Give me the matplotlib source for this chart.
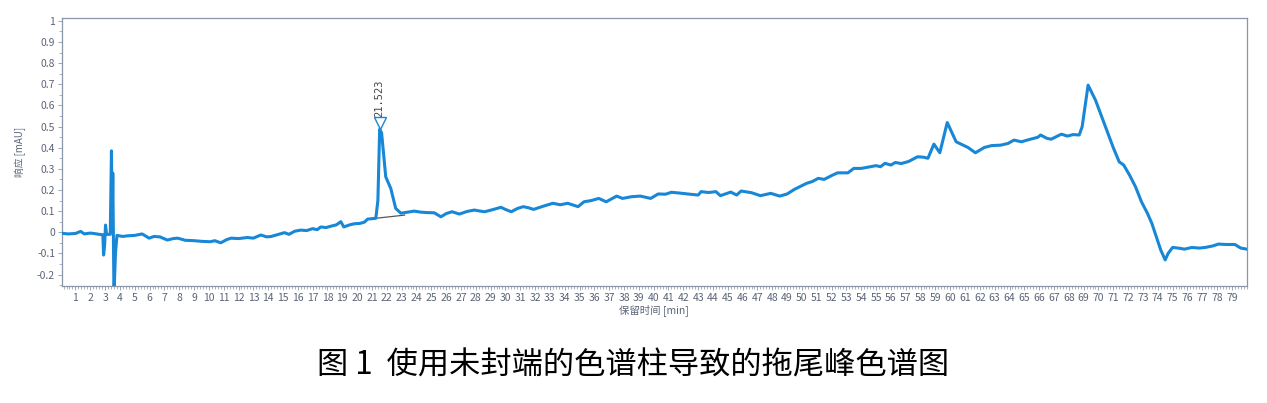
import numpy as np
import matplotlib
matplotlib.use('Agg')
import matplotlib.pyplot as plt
from matplotlib.ticker import MultipleLocator

plt.rcParams['font.family'] = ['Noto Sans CJK SC', 'DejaVu Sans']

# 色谱数据 (时间 min, 响应 mAU)
t = [0.1, 0.5, 1.0, 1.35, 1.6, 2.0, 2.25, 2.6, 2.85, 2.9, 2.97, 3.03, 3.1, 3.35,
     3.43, 3.48, 3.52, 3.6, 3.7, 3.8, 4.2, 4.5, 5.0, 5.5, 5.97, 6.3, 6.7, 7.2,
     7.6, 7.9, 8.4, 9.0, 9.5, 10.1, 10.4, 10.8, 11.2, 11.5, 12.0, 12.6, 13.0,
     13.5, 13.9, 14.2, 14.7, 15.1, 15.4, 15.8, 16.2, 16.6, 17.0, 17.3, 17.55,
     17.9, 18.2, 18.6, 18.9, 19.1, 19.5, 19.8, 20.2, 20.5, 20.7, 21.0, 21.26,
     21.4, 21.52, 21.65, 21.93, 22.27, 22.6, 22.95, 23.4, 23.85, 24.3, 24.7,
     25.2, 25.65, 26.0, 26.4, 26.9, 27.4, 27.9, 28.3, 28.6, 29.2, 29.7, 30.0,
     30.4, 30.8, 31.2, 31.6, 31.9, 32.5, 33.2, 33.7, 34.2, 34.9, 35.3, 35.8,
     36.3, 36.8, 37.5, 37.9, 38.5, 39.1, 39.8, 40.3, 40.8, 41.2, 41.8, 42.3,
     43.0, 43.2, 43.7, 44.2, 44.5, 45.2, 45.6, 45.9, 46.6, 47.2, 47.9, 48.5,
     49.0, 49.5, 50.3, 50.7, 51.1, 51.5, 52.0, 52.4, 53.1, 53.5, 54.0, 54.6,
     55.0, 55.3, 55.6, 56.0, 56.3, 56.7, 57.2, 57.8, 58.2, 58.5, 58.9, 59.3,
     59.8, 60.4, 61.2, 61.7, 62.3, 62.8, 63.4, 63.9, 64.3, 64.8, 65.4, 65.9,
     66.1, 66.5, 66.8, 67.5, 67.9, 68.3, 68.7, 68.9, 69.3, 69.8, 70.2, 70.6,
     71.0, 71.4, 71.7, 72.1, 72.5, 72.9, 73.3, 73.6, 74.2, 74.5, 74.7, 75.0,
     75.4, 75.8, 76.3, 76.8, 77.2, 77.7, 78.1, 78.6, 79.2, 79.6, 80.0]
resp = [-0.005, -0.008, -0.006, 0.004, -0.008, -0.004, -0.006, -0.01, -0.012,
        -0.108, -0.06, 0.034, -0.01, -0.01, 0.385, 0.06, 0.28, -0.3, -0.1,
        -0.015, -0.02, -0.017, -0.015, -0.008, -0.028, -0.02, -0.022, -0.037,
        -0.03, -0.028, -0.038, -0.04, -0.043, -0.045, -0.04, -0.05, -0.035,
        -0.028, -0.03, -0.025, -0.028, -0.013, -0.022, -0.02, -0.01, -0.002,
        -0.01, 0.005, 0.01, 0.008, 0.017, 0.012, 0.025, 0.022, 0.028, 0.035,
        0.05, 0.025, 0.035, 0.04, 0.042, 0.048, 0.062, 0.064, 0.066, 0.15,
        0.487, 0.47, 0.262, 0.207, 0.113, 0.09, 0.095, 0.1, 0.095, 0.093,
        0.092, 0.073, 0.088, 0.097, 0.086, 0.098, 0.105, 0.1, 0.097, 0.108,
        0.118, 0.108, 0.097, 0.112, 0.121, 0.115, 0.108, 0.122, 0.137, 0.13,
        0.137, 0.121, 0.144, 0.15, 0.16, 0.144, 0.171, 0.16, 0.168, 0.171,
        0.16, 0.181, 0.18, 0.189, 0.185, 0.181, 0.176, 0.192, 0.188, 0.192,
        0.173, 0.19, 0.176, 0.195, 0.187, 0.173, 0.184, 0.171, 0.181, 0.203,
        0.231, 0.24, 0.255, 0.25, 0.268, 0.281, 0.281, 0.302, 0.302, 0.31,
        0.315, 0.31, 0.326, 0.318, 0.33, 0.325, 0.335, 0.357, 0.355, 0.35,
        0.417, 0.376, 0.519, 0.428, 0.401, 0.376, 0.401, 0.41, 0.412, 0.42,
        0.436, 0.428, 0.44, 0.449, 0.46, 0.445, 0.44, 0.464, 0.455, 0.462,
        0.46, 0.499, 0.696, 0.625, 0.55, 0.475, 0.4, 0.333, 0.318, 0.27,
        0.215, 0.144, 0.09, 0.042, -0.084, -0.131, -0.1, -0.072, -0.075,
        -0.08, -0.072, -0.075, -0.072, -0.065, -0.056, -0.058, -0.058, -0.075,
        -0.08]

# 峰基线与峰标记
base_t = [21.26, 23.2]
base_v = [0.066, 0.081]
peak_t = 21.523
peak_v = 0.515
peak_label = '21.523'

blue = '#1787d6'
tick_col = '#5a6478'
axis_col = '#8a96a8'

fig = plt.figure(figsize=(12.67, 4.03), dpi=100)
ax = fig.add_axes([0.049, 0.290, 0.935, 0.665])

ax.plot(base_t, base_v, color='#555555', lw=0.9, zorder=2)
ax.plot(t, resp, color=blue, lw=2.2, zorder=3, solid_joinstyle='round')
ax.plot([peak_t], [peak_v], marker='v', ms=8, mfc='white', mec=blue, mew=1.0,
        ls='none', zorder=4)
ax.text(peak_t, peak_v + 0.03, peak_label, rotation=90, ha='center', va='bottom',
        fontsize=7.5, color='#444444', family=['DejaVu Sans Mono'])

ax.set_xlim(0.1, 80.0)
ax.set_ylim(-0.255, 1.013)
ax.set_xticks(range(1, 80))
ax.xaxis.set_minor_locator(MultipleLocator(0.2))
ax.set_yticks(np.round(np.arange(-0.2, 1.01, 0.1), 1))
ax.set_yticklabels(['-0.2', '-0.1', '0', '0.1', '0.2', '0.3', '0.4', '0.5',
                    '0.6', '0.7', '0.8', '0.9', '1'])
ax.yaxis.set_minor_locator(MultipleLocator(0.05))
ax.tick_params(axis='both', which='major', labelsize=7.5, colors=axis_col,
               labelcolor=tick_col, length=3, width=0.6, pad=2)
ax.tick_params(axis='both', which='minor', colors=axis_col, length=2, width=0.5)
for s in ax.spines.values():
    s.set_color(axis_col)
    s.set_linewidth(0.9)

ax.set_xlabel('保留时间 [min]', fontsize=7.5, color=tick_col, labelpad=1)
ax.set_ylabel('响应 [mAU]', fontsize=7, color=tick_col, labelpad=8)

fig.text(0.5, 0.094, '图 1  使用未封端的色谱柱导致的拖尾峰色谱图', ha='center',
         va='center', fontsize=22.5, color='black')

fig.savefig('out.png', dpi=100)
